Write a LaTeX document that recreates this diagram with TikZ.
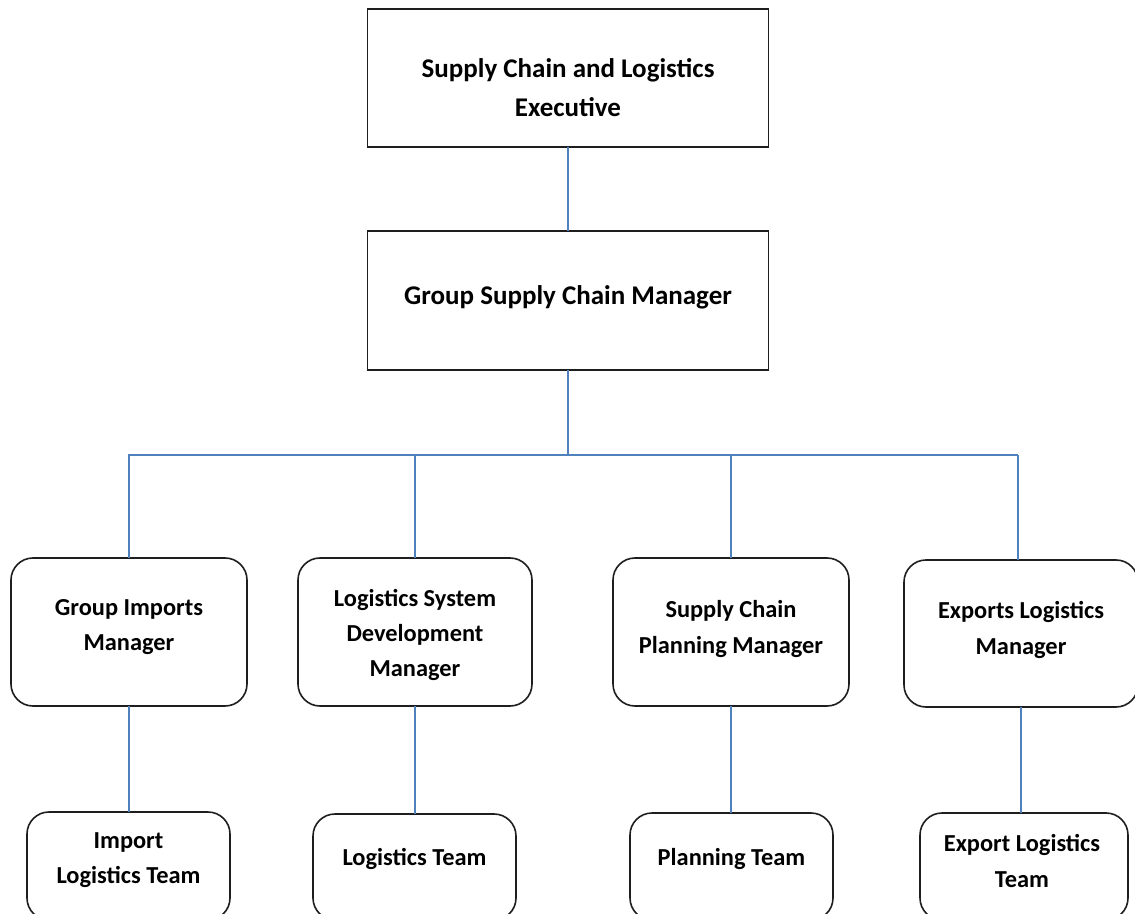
\documentclass[tikz,border=0pt]{standalone}
\usepackage{fontspec}
\setmainfont{Carlito}
\definecolor{connblue}{HTML}{4F81BD}
\definecolor{boxline}{HTML}{1E1E1E}
\begin{document}
\begin{tikzpicture}[x=0.5pt,y=-0.5pt,
  sqbox/.style={draw=boxline,line width=0.8pt,inner sep=0pt,outer sep=0pt,fill=white},
  rbox/.style={sqbox,rounded corners=11pt},
  bigtxt/.style={font=\bfseries\fontsize{13.5}{19.5}\selectfont,align=center,inner sep=0pt},
  smalltxt/.style={font=\bfseries\fontsize{12.2}{17.6}\selectfont,align=center,inner sep=0pt},
  conn/.style={draw=connblue,line width=0.7pt}]
\useasboundingbox (0,0) rectangle (1135,914);
\clip (0,0) rectangle (1135,914);
\fill[white] (0,0) rectangle (1135,914);

% boxes
\node[sqbox,minimum width=200.5pt,minimum height=69pt] (exec) at (568,78) {};
\node[sqbox,minimum width=200.5pt,minimum height=69.5pt] (gscm) at (568,300.5) {};
\node[rbox,minimum width=118pt,minimum height=74pt] (gim) at (129,632) {};
\node[rbox,minimum width=117pt,minimum height=74pt] (lsdm) at (415,632) {};
\node[rbox,minimum width=118pt,minimum height=74pt] (scpm) at (731,632) {};
\node[rbox,minimum width=117pt,minimum height=73.5pt] (elm) at (1021,633.5) {};
\node[rbox,minimum width=101.5pt,minimum height=54pt] (ilt) at (128.5,866) {};
\node[rbox,minimum width=101.5pt,minimum height=53pt] (lt) at (414.5,867) {};
\node[rbox,minimum width=101.5pt,minimum height=53.5pt] (pt) at (731.5,866.5) {};
\node[rbox,minimum width=104pt,minimum height=53.5pt] (elt) at (1024,866.5) {};

% texts
\node[bigtxt] (exec-t) at (568,87.5) {Supply Chain and Logistics\\Executive};
\node[bigtxt] (gscm-t) at (568,297) {Group Supply Chain Manager};
\node[smalltxt] (gim-t) at (129,627) {Group Imports\\Manager};
\node[smalltxt] (lsdm-t) at (415,635) {Logistics System\\Development\\Manager};
\node[smalltxt] (scpm-t) at (731,629) {Supply Chain\\Planning Manager};
\node[smalltxt] (elm-t) at (1021,630) {Exports Logistics\\Manager};
\node[smalltxt] (ilt-t) at (128.5,860) {Import\\Logistics Team};
\node[smalltxt] (lt-t) at (414.5,859) {Logistics Team};
\node[smalltxt] (pt-t) at (731.5,859) {Planning Team};
\node[smalltxt] (elt-t) at (1022,861) {Export Logistics\\Team};

% connectors
\coordinate (bus) at (568,455);
\coordinate (busR) at (1018,455);
\draw[conn] (exec.south) -- (gscm.north);
\draw[conn] (gscm.south) -- (bus);
\draw[conn] (gim.north) |- (bus) -- (busR);
\draw[conn] (busR) -- (busR |- elm.north);
\draw[conn] (lsdm.north) -- (lsdm.north |- bus);
\draw[conn] (scpm.north) -- (scpm.north |- bus);
\draw[conn] (gim.south) -- (gim.south |- ilt.north);
\draw[conn] (lsdm.south) -- (lsdm.south |- lt.north);
\draw[conn] (scpm.south) -- (scpm.south |- pt.north);
\draw[conn] (elm.south) -- (elm.south |- elt.north);
\end{tikzpicture}
\end{document}
